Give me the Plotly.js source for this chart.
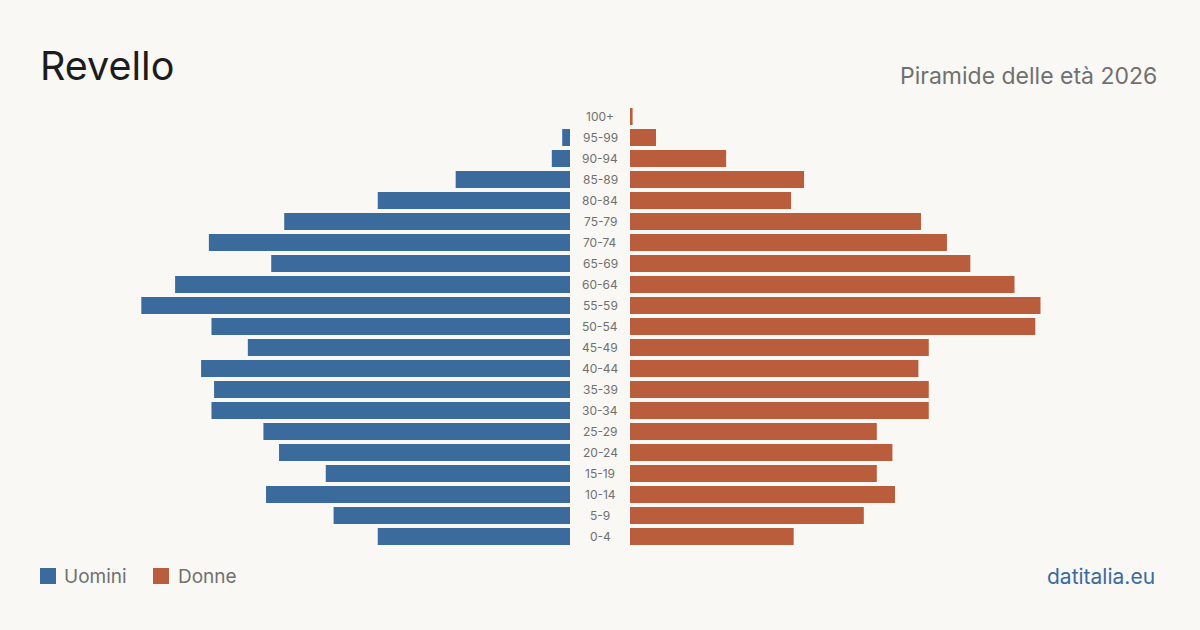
<!DOCTYPE html>
<html>
<head>
<meta charset="utf-8">
<script src="https://cdn.plot.ly/plotly-3.0.1.min.js"></script>
<style>
  html, body { margin: 0; padding: 0; background: #f9f8f4; }
  #chart { width: 1200px; height: 630px; }
</style>
</head>
<body>
<div id="chart"></div>
<script>
// Age classes, youngest first (bottom of the pyramid)
const ageClasses = ["0-4", "5-9", "10-14", "15-19", "20-24", "25-29", "30-34", "35-39",
  "40-44", "45-49", "50-54", "55-59", "60-64", "65-69", "70-74", "75-79",
  "80-84", "85-89", "90-94", "95-99", "100+"];

// Residents by age class
const uomini = [74, 91, 117, 94, 112, 118, 138, 137, 142, 124, 138, 165, 152, 115, 139, 110, 74, 44, 7, 3, 0];
const donne  = [63, 90, 102, 95, 101, 95, 115, 115, 111, 115, 156, 158, 148, 131, 122, 112, 62, 67, 37, 10, 1];

const blue = "#3b6b9c";
const rust = "#b95d3d";
const bg = "#f9f8f4";
const font = "Inter, 'DejaVu Sans', sans-serif";

const W = 1200, H = 630;
const mTop = 106, mBot = 83;
const plotH = H - mTop - mBot;
// paper y for a pixel row
const py = px => (H - mBot - px) / plotH;

const xMax = 204;

const traces = [
  {
    type: "bar", orientation: "h", name: "Uomini",
    y: ageClasses, x: uomini, xaxis: "x", yaxis: "y",
    marker: { color: blue }, hoverinfo: "skip"
  },
  {
    type: "bar", orientation: "h", name: "Donne",
    y: ageClasses, x: donne, xaxis: "x2", yaxis: "y",
    marker: { color: rust }, hoverinfo: "skip"
  }
];

// Age labels in the central gutter
const ageLabels = ageClasses.map(a => ({
  text: a, x: 600 / W, xref: "paper", y: a, yref: "y",
  xanchor: "center", yanchor: "middle", showarrow: false,
  font: { family: font, size: 12, color: "#707070" }
}));

const annotations = ageLabels.concat([
  {
    text: "Piramide delle età 2026", x: 1159 / W, xref: "paper", y: py(76), yref: "paper",
    xanchor: "right", yanchor: "middle", showarrow: false,
    font: { family: font, size: 23, color: "#707070" }
  },
  {
    text: "datitalia.eu", x: 1157 / W, xref: "paper", y: py(576), yref: "paper",
    xanchor: "right", yanchor: "middle", showarrow: false,
    font: { family: font, size: 21, color: blue }
  },
  {
    text: "Uomini", x: 62 / W, xref: "paper", y: py(576), yref: "paper",
    xanchor: "left", yanchor: "middle", showarrow: false,
    font: { family: font, size: 19, color: "#707070" }
  },
  {
    text: "Donne", x: 176 / W, xref: "paper", y: py(576), yref: "paper",
    xanchor: "left", yanchor: "middle", showarrow: false,
    font: { family: font, size: 19, color: "#707070" }
  }
]);

// Legend swatches
const shapes = [
  { type: "rect", xref: "paper", yref: "paper", x0: 40 / W, x1: 56 / W, y0: py(584), y1: py(568),
    fillcolor: blue, line: { width: 0 } },
  { type: "rect", xref: "paper", yref: "paper", x0: 153 / W, x1: 169 / W, y0: py(584), y1: py(568),
    fillcolor: rust, line: { width: 0 } }
];

const layout = {
  width: W, height: H,
  paper_bgcolor: bg, plot_bgcolor: bg,
  margin: { l: 0, r: 0, t: mTop, b: mBot, pad: 0 },
  showlegend: false,
  bargap: 0.19,
  title: {
    text: "Revello", x: 40 / W, xref: "container", xanchor: "left",
    y: 1 - 66 / H, yref: "container", yanchor: "middle",
    font: { family: font, size: 39.5, color: "#1c1c1c" }
  },
  xaxis: {
    domain: [40 / W, 570 / W], range: [xMax, 0], anchor: "y",
    showgrid: false, zeroline: false, showticklabels: false, showline: false, ticks: ""
  },
  xaxis2: {
    domain: [630 / W, 1160 / W], range: [0, xMax], anchor: "y",
    showgrid: false, zeroline: false, showticklabels: false, showline: false, ticks: ""
  },
  yaxis: {
    type: "category", categoryorder: "array", categoryarray: ageClasses,
    range: [-0.5, ageClasses.length - 0.5], anchor: "x",
    showgrid: false, zeroline: false, showticklabels: false, showline: false, ticks: ""
  },
  annotations: annotations,
  shapes: shapes,
  font: { family: font }
};

Plotly.newPlot("chart", traces, layout, { displayModeBar: false, staticPlot: true });
</script>
</body>
</html>
